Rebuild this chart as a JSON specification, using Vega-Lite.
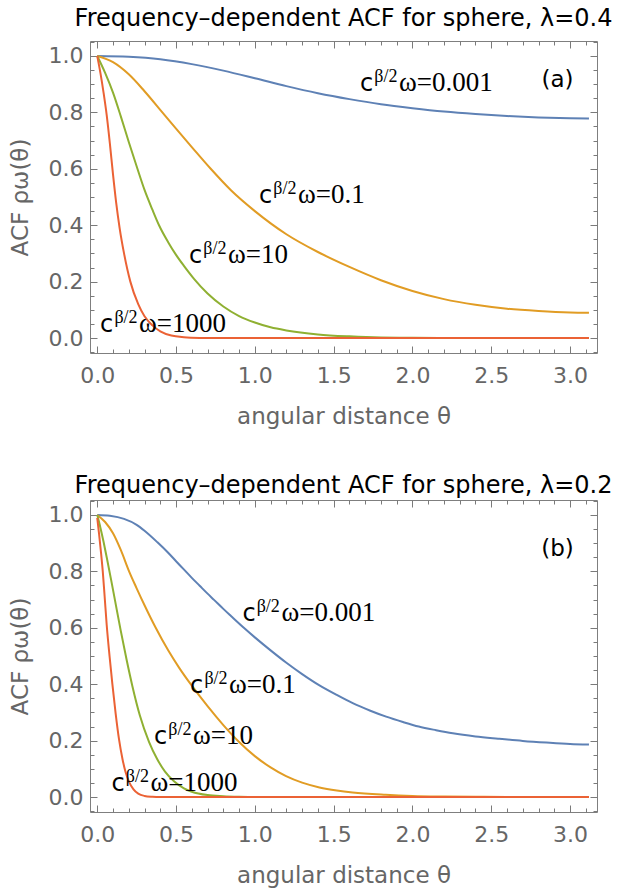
{
  "$schema": "https://vega.github.io/schema/vega-lite/v6.json",
  "background": "white",
  "padding": {"left": 8, "top": 6, "right": 0, "bottom": 0},
  "spacing": 44,
  "config": {
    "font": "DejaVu Sans",
    "view": {"stroke": "#7f7f7f", "strokeWidth": 1},
    "title": {"font": "DejaVu Sans", "fontSize": 24, "fontWeight": "normal", "color": "black", "anchor": "middle", "frame": "group", "baseline": "alphabetic"},
    "axis": {
      "grid": false, "domain": false,
      "labelFont": "DejaVu Sans", "labelFontSize": 22, "labelColor": "#666666",
      "titleFont": "DejaVu Sans", "titleFontSize": 23, "titleColor": "#666666", "titleFontWeight": "normal",
      "tickColor": "#7a7a7a", "tickWidth": 1,
      "labelFlush": false, "labelOverlap": false
    }
  },
  "datasets": {
    "curves": [
      {"p":"a","w":"0.001","x":0,"y":1},{"p":"a","w":"0.001","x":0.2,"y":0.997},{"p":"a","w":"0.001","x":0.4,"y":0.988},{"p":"a","w":"0.001","x":0.6,"y":0.971},{"p":"a","w":"0.001","x":0.8,"y":0.948},{"p":"a","w":"0.001","x":1.0,"y":0.921},{"p":"a","w":"0.001","x":1.2,"y":0.893},{"p":"a","w":"0.001","x":1.4,"y":0.868},{"p":"a","w":"0.001","x":1.6,"y":0.847},{"p":"a","w":"0.001","x":1.8,"y":0.829},{"p":"a","w":"0.001","x":2.0,"y":0.815},{"p":"a","w":"0.001","x":2.2,"y":0.803},{"p":"a","w":"0.001","x":2.4,"y":0.794},{"p":"a","w":"0.001","x":2.6,"y":0.787},{"p":"a","w":"0.001","x":2.8,"y":0.782},{"p":"a","w":"0.001","x":3.0,"y":0.779},{"p":"a","w":"0.001","x":3.12,"y":0.778},

      {"p":"a","w":"0.1","x":0,"y":1},{"p":"a","w":"0.1","x":0.1,"y":0.978},{"p":"a","w":"0.1","x":0.2,"y":0.935},{"p":"a","w":"0.1","x":0.3,"y":0.875},{"p":"a","w":"0.1","x":0.413,"y":0.8},{"p":"a","w":"0.1","x":0.5,"y":0.742},{"p":"a","w":"0.1","x":0.6,"y":0.677},{"p":"a","w":"0.1","x":0.72,"y":0.6},{"p":"a","w":"0.1","x":0.85,"y":0.523},{"p":"a","w":"0.1","x":1.0,"y":0.45},{"p":"a","w":"0.1","x":1.2,"y":0.368},{"p":"a","w":"0.1","x":1.4,"y":0.305},{"p":"a","w":"0.1","x":1.6,"y":0.252},{"p":"a","w":"0.1","x":1.8,"y":0.205},{"p":"a","w":"0.1","x":2.0,"y":0.167},{"p":"a","w":"0.1","x":2.2,"y":0.138},{"p":"a","w":"0.1","x":2.4,"y":0.118},{"p":"a","w":"0.1","x":2.6,"y":0.104},{"p":"a","w":"0.1","x":2.8,"y":0.096},{"p":"a","w":"0.1","x":3.0,"y":0.091},{"p":"a","w":"0.1","x":3.12,"y":0.09},

      {"p":"a","w":"10","x":0,"y":1},{"p":"a","w":"10","x":0.05,"y":0.94},{"p":"a","w":"10","x":0.1,"y":0.87},{"p":"a","w":"10","x":0.15,"y":0.785},{"p":"a","w":"10","x":0.2,"y":0.695},{"p":"a","w":"10","x":0.255,"y":0.6},{"p":"a","w":"10","x":0.3,"y":0.525},{"p":"a","w":"10","x":0.35,"y":0.455},{"p":"a","w":"10","x":0.392,"y":0.4},{"p":"a","w":"10","x":0.45,"y":0.34},{"p":"a","w":"10","x":0.5,"y":0.295},{"p":"a","w":"10","x":0.55,"y":0.256},{"p":"a","w":"10","x":0.614,"y":0.21},{"p":"a","w":"10","x":0.7,"y":0.158},{"p":"a","w":"10","x":0.8,"y":0.112},{"p":"a","w":"10","x":0.9,"y":0.078},{"p":"a","w":"10","x":1.0,"y":0.055},{"p":"a","w":"10","x":1.1,"y":0.038},{"p":"a","w":"10","x":1.2,"y":0.027},{"p":"a","w":"10","x":1.4,"y":0.013},{"p":"a","w":"10","x":1.6,"y":0.006},{"p":"a","w":"10","x":1.8,"y":0.002},{"p":"a","w":"10","x":2.0,"y":0.001},{"p":"a","w":"10","x":2.2,"y":0},{"p":"a","w":"10","x":3.12,"y":0},

      {"p":"a","w":"1000","x":0,"y":1},{"p":"a","w":"1000","x":0.02,"y":0.94},{"p":"a","w":"1000","x":0.04,"y":0.87},{"p":"a","w":"1000","x":0.06,"y":0.79},{"p":"a","w":"1000","x":0.08,"y":0.69},{"p":"a","w":"1000","x":0.1,"y":0.58},{"p":"a","w":"1000","x":0.12,"y":0.48},{"p":"a","w":"1000","x":0.142,"y":0.39},{"p":"a","w":"1000","x":0.17,"y":0.3},{"p":"a","w":"1000","x":0.21,"y":0.2},{"p":"a","w":"1000","x":0.26,"y":0.12},{"p":"a","w":"1000","x":0.3,"y":0.077},{"p":"a","w":"1000","x":0.35,"y":0.045},{"p":"a","w":"1000","x":0.4,"y":0.024},{"p":"a","w":"1000","x":0.47,"y":0.009},{"p":"a","w":"1000","x":0.55,"y":0.003},{"p":"a","w":"1000","x":0.65,"y":0.0005},{"p":"a","w":"1000","x":0.75,"y":0},{"p":"a","w":"1000","x":3.12,"y":0},

      {"p":"b","w":"0.001","x":0,"y":1},{"p":"b","w":"0.001","x":0.08,"y":0.997},{"p":"b","w":"0.001","x":0.17,"y":0.986},{"p":"b","w":"0.001","x":0.25,"y":0.965},{"p":"b","w":"0.001","x":0.3,"y":0.944},{"p":"b","w":"0.001","x":0.382,"y":0.903},{"p":"b","w":"0.001","x":0.45,"y":0.866},{"p":"b","w":"0.001","x":0.5,"y":0.836},{"p":"b","w":"0.001","x":0.551,"y":0.806},{"p":"b","w":"0.001","x":0.6,"y":0.777},{"p":"b","w":"0.001","x":0.65,"y":0.749},{"p":"b","w":"0.001","x":0.7,"y":0.721},{"p":"b","w":"0.001","x":0.741,"y":0.699},{"p":"b","w":"0.001","x":0.8,"y":0.667},{"p":"b","w":"0.001","x":0.85,"y":0.641},{"p":"b","w":"0.001","x":0.93,"y":0.6},{"p":"b","w":"0.001","x":1.0,"y":0.566},{"p":"b","w":"0.001","x":1.1,"y":0.52},{"p":"b","w":"0.001","x":1.198,"y":0.477},{"p":"b","w":"0.001","x":1.3,"y":0.436},{"p":"b","w":"0.001","x":1.41,"y":0.396},{"p":"b","w":"0.001","x":1.52,"y":0.362},{"p":"b","w":"0.001","x":1.621,"y":0.333},{"p":"b","w":"0.001","x":1.733,"y":0.306},{"p":"b","w":"0.001","x":1.833,"y":0.285},{"p":"b","w":"0.001","x":1.94,"y":0.266},{"p":"b","w":"0.001","x":2.04,"y":0.25},{"p":"b","w":"0.001","x":2.15,"y":0.237},{"p":"b","w":"0.001","x":2.256,"y":0.226},{"p":"b","w":"0.001","x":2.4,"y":0.215},{"p":"b","w":"0.001","x":2.543,"y":0.207},{"p":"b","w":"0.001","x":2.7,"y":0.199},{"p":"b","w":"0.001","x":2.85,"y":0.193},{"p":"b","w":"0.001","x":3.0,"y":0.188},{"p":"b","w":"0.001","x":3.12,"y":0.186},

      {"p":"b","w":"0.1","x":0,"y":1},{"p":"b","w":"0.1","x":0.05,"y":0.975},{"p":"b","w":"0.1","x":0.1,"y":0.935},{"p":"b","w":"0.1","x":0.15,"y":0.875},{"p":"b","w":"0.1","x":0.202,"y":0.8},{"p":"b","w":"0.1","x":0.25,"y":0.74},{"p":"b","w":"0.1","x":0.3,"y":0.68},{"p":"b","w":"0.1","x":0.371,"y":0.6},{"p":"b","w":"0.1","x":0.45,"y":0.52},{"p":"b","w":"0.1","x":0.52,"y":0.458},{"p":"b","w":"0.1","x":0.593,"y":0.4},{"p":"b","w":"0.1","x":0.7,"y":0.322},{"p":"b","w":"0.1","x":0.8,"y":0.255},{"p":"b","w":"0.1","x":0.9,"y":0.195},{"p":"b","w":"0.1","x":1.0,"y":0.145},{"p":"b","w":"0.1","x":1.1,"y":0.105},{"p":"b","w":"0.1","x":1.198,"y":0.074},{"p":"b","w":"0.1","x":1.3,"y":0.051},{"p":"b","w":"0.1","x":1.41,"y":0.034},{"p":"b","w":"0.1","x":1.52,"y":0.023},{"p":"b","w":"0.1","x":1.62,"y":0.016},{"p":"b","w":"0.1","x":1.83,"y":0.008},{"p":"b","w":"0.1","x":2.0,"y":0.004},{"p":"b","w":"0.1","x":2.2,"y":0.002},{"p":"b","w":"0.1","x":2.4,"y":0.001},{"p":"b","w":"0.1","x":2.6,"y":0},{"p":"b","w":"0.1","x":3.12,"y":0},

      {"p":"b","w":"10","x":0,"y":1},{"p":"b","w":"10","x":0.02,"y":0.955},{"p":"b","w":"10","x":0.04,"y":0.905},{"p":"b","w":"10","x":0.06,"y":0.85},{"p":"b","w":"10","x":0.088,"y":0.77},{"p":"b","w":"10","x":0.115,"y":0.69},{"p":"b","w":"10","x":0.149,"y":0.59},{"p":"b","w":"10","x":0.185,"y":0.49},{"p":"b","w":"10","x":0.223,"y":0.393},{"p":"b","w":"10","x":0.27,"y":0.29},{"p":"b","w":"10","x":0.329,"y":0.195},{"p":"b","w":"10","x":0.38,"y":0.135},{"p":"b","w":"10","x":0.43,"y":0.09},{"p":"b","w":"10","x":0.487,"y":0.056},{"p":"b","w":"10","x":0.55,"y":0.031},{"p":"b","w":"10","x":0.6,"y":0.019},{"p":"b","w":"10","x":0.7,"y":0.007},{"p":"b","w":"10","x":0.8,"y":0.003},{"p":"b","w":"10","x":0.9,"y":0.001},{"p":"b","w":"10","x":1.0,"y":0},{"p":"b","w":"10","x":3.12,"y":0},

      {"p":"b","w":"1000","x":0,"y":0.99},{"p":"b","w":"1000","x":0.012,"y":0.93},{"p":"b","w":"1000","x":0.025,"y":0.86},{"p":"b","w":"1000","x":0.035,"y":0.8},{"p":"b","w":"1000","x":0.047,"y":0.71},{"p":"b","w":"1000","x":0.06,"y":0.61},{"p":"b","w":"1000","x":0.078,"y":0.5},{"p":"b","w":"1000","x":0.096,"y":0.4},{"p":"b","w":"1000","x":0.117,"y":0.295},{"p":"b","w":"1000","x":0.138,"y":0.205},{"p":"b","w":"1000","x":0.16,"y":0.135},{"p":"b","w":"1000","x":0.18,"y":0.088},{"p":"b","w":"1000","x":0.202,"y":0.054},{"p":"b","w":"1000","x":0.23,"y":0.027},{"p":"b","w":"1000","x":0.26,"y":0.012},{"p":"b","w":"1000","x":0.3,"y":0.004},{"p":"b","w":"1000","x":0.35,"y":0.001},{"p":"b","w":"1000","x":0.4,"y":0},{"p":"b","w":"1000","x":3.12,"y":0}
    ],
    "labels": [
      {"p":"a","x":1.667,"y":0.876,"rest":"ω=0.001"},
      {"p":"a","x":1.026,"y":0.478,"rest":"ω=0.1"},
      {"p":"a","x":0.582,"y":0.267,"rest":"ω=10"},
      {"p":"a","x":0.018,"y":0.022,"rest":"ω=1000"},
      {"p":"b","x":0.921,"y":0.625,"rest":"ω=0.001"},
      {"p":"b","x":0.589,"y":0.369,"rest":"ω=0.1"},
      {"p":"b","x":0.36,"y":0.189,"rest":"ω=10"},
      {"p":"b","x":0.09,"y":0.021,"rest":"ω=1000"}
    ],
    "letters": [
      {"p":"a","x":2.92,"y":0.89,"t":"(a)"},
      {"p":"b","x":2.92,"y":0.853,"t":"(b)"}
    ]
  },
  "vconcat": [
    {
      "width": 507, "height": 312,
      "title": {"text": "Frequency–dependent ACF for sphere, λ=0.4", "offset": 10},
      "resolve": {"axis": {"x": "independent", "y": "independent"}},
      "layer": [
        {
          "data": {"name": "curves"},
          "transform": [{"filter": "datum.p === 'a'"}],
          "mark": {"type": "line", "strokeWidth": 2, "interpolate": "monotone", "clip": true},
          "encoding": {
            "x": {"field": "x", "type": "quantitative", "scale": {"domain": [-0.046, 3.171], "nice": false, "zero": false},
              "axis": {"orient": "bottom", "values": [0,0.5,1,1.5,2,2.5,3], "format": ".1f", "tickSize": 7, "offset": -7, "labelPadding": 12, "title": "angular distance θ", "titlePadding": 19}},
            "y": {"field": "y", "type": "quantitative", "scale": {"domain": [-0.053, 1.053], "nice": false, "zero": false},
              "axis": {"orient": "left", "values": [0,0.2,0.4,0.6,0.8,1], "format": ".1f", "tickSize": 7, "offset": -7, "labelPadding": 7, "title": "ACF ρω(θ)", "titlePadding": 16}},
            "color": {"field": "w", "type": "nominal", "scale": {"domain": ["0.001","0.1","10","1000"], "range": ["#5E81B5","#E19C24","#8FB032","#EB6235"]}, "legend": null}
          }
        },
        {
          "data": {"name": "letters"},
          "transform": [{"filter": "datum.p === 'a'"}],
          "mark": {"type": "text", "font": "DejaVu Sans", "fontSize": 23, "align": "center", "baseline": "alphabetic", "color": "black"},
          "encoding": {
            "x": {"field": "x", "type": "quantitative", "scale": {"domain": [-0.046, 3.171], "nice": false, "zero": false},
              "axis": {"orient": "bottom", "values": [0.1,0.2,0.3,0.4,0.6,0.7,0.8,0.9,1.1,1.2,1.3,1.4,1.6,1.7,1.8,1.9,2.1,2.2,2.3,2.4,2.6,2.7,2.8,2.9,3.1], "labels": false, "title": null, "tickSize": 4, "offset": -4}},
            "y": {"field": "y", "type": "quantitative", "scale": {"domain": [-0.053, 1.053], "nice": false, "zero": false},
              "axis": {"orient": "left", "values": [-0.05,0.05,0.1,0.15,0.25,0.3,0.35,0.45,0.5,0.55,0.65,0.7,0.75,0.85,0.9,0.95,1.05], "labels": false, "title": null, "tickSize": 4, "offset": -4}},
            "text": {"field": "t"}
          }
        },
        {
          "data": {"name": "labels"},
          "transform": [{"filter": "datum.p === 'a'"}],
          "mark": {"type": "text", "text": "c", "font": "DejaVu Sans", "fontSize": 24, "align": "left", "baseline": "alphabetic", "color": "black"},
          "encoding": {
            "x": {"field": "x", "type": "quantitative", "scale": {"domain": [-0.046, 3.171], "nice": false, "zero": false},
              "axis": {"orient": "top", "values": [0,0.5,1,1.5,2,2.5,3], "labels": false, "title": null, "tickSize": 7, "offset": -7}},
            "y": {"field": "y", "type": "quantitative", "scale": {"domain": [-0.053, 1.053], "nice": false, "zero": false},
              "axis": {"orient": "right", "values": [0,0.2,0.4,0.6,0.8,1], "labels": false, "title": null, "tickSize": 7, "offset": -7}}
          }
        },
        {
          "data": {"name": "labels"},
          "transform": [{"filter": "datum.p === 'a'"}],
          "mark": {"type": "text", "text": "β/2", "font": "Liberation Serif", "fontSize": 18, "align": "left", "baseline": "alphabetic", "dx": 14.3, "dy": -9, "color": "black"},
          "encoding": {
            "x": {"field": "x", "type": "quantitative", "scale": {"domain": [-0.046, 3.171], "nice": false, "zero": false},
              "axis": {"orient": "top", "values": [0.1,0.2,0.3,0.4,0.6,0.7,0.8,0.9,1.1,1.2,1.3,1.4,1.6,1.7,1.8,1.9,2.1,2.2,2.3,2.4,2.6,2.7,2.8,2.9,3.1], "labels": false, "title": null, "tickSize": 4, "offset": -4}},
            "y": {"field": "y", "type": "quantitative", "scale": {"domain": [-0.053, 1.053], "nice": false, "zero": false},
              "axis": {"orient": "right", "values": [-0.05,0.05,0.1,0.15,0.25,0.3,0.35,0.45,0.5,0.55,0.65,0.7,0.75,0.85,0.9,0.95,1.05], "labels": false, "title": null, "tickSize": 4, "offset": -4}}
          }
        },
        {
          "data": {"name": "labels"},
          "transform": [{"filter": "datum.p === 'a'"}],
          "mark": {"type": "text", "font": "Liberation Serif", "fontSize": 27, "align": "left", "baseline": "alphabetic", "dx": 39, "color": "black"},
          "encoding": {
            "x": {"field": "x", "type": "quantitative", "scale": {"domain": [-0.046, 3.171], "nice": false, "zero": false}, "axis": null},
            "y": {"field": "y", "type": "quantitative", "scale": {"domain": [-0.053, 1.053], "nice": false, "zero": false}, "axis": null},
            "text": {"field": "rest"}
          }
        }
      ]
    },
    {
      "width": 507, "height": 312,
      "title": {"text": "Frequency–dependent ACF for sphere, λ=0.2", "offset": 2},
      "resolve": {"axis": {"x": "independent", "y": "independent"}},
      "layer": [
        {
          "data": {"name": "curves"},
          "transform": [{"filter": "datum.p === 'b'"}],
          "mark": {"type": "line", "strokeWidth": 2, "interpolate": "monotone", "clip": true},
          "encoding": {
            "x": {"field": "x", "type": "quantitative", "scale": {"domain": [-0.046, 3.171], "nice": false, "zero": false},
              "axis": {"orient": "bottom", "values": [0,0.5,1,1.5,2,2.5,3], "format": ".1f", "tickSize": 7, "offset": -7, "labelPadding": 12, "title": "angular distance θ", "titlePadding": 19}},
            "y": {"field": "y", "type": "quantitative", "scale": {"domain": [-0.053, 1.053], "nice": false, "zero": false},
              "axis": {"orient": "left", "values": [0,0.2,0.4,0.6,0.8,1], "format": ".1f", "tickSize": 7, "offset": -7, "labelPadding": 7, "title": "ACF ρω(θ)", "titlePadding": 16}},
            "color": {"field": "w", "type": "nominal", "scale": {"domain": ["0.001","0.1","10","1000"], "range": ["#5E81B5","#E19C24","#8FB032","#EB6235"]}, "legend": null}
          }
        },
        {
          "data": {"name": "letters"},
          "transform": [{"filter": "datum.p === 'b'"}],
          "mark": {"type": "text", "font": "DejaVu Sans", "fontSize": 23, "align": "center", "baseline": "alphabetic", "color": "black"},
          "encoding": {
            "x": {"field": "x", "type": "quantitative", "scale": {"domain": [-0.046, 3.171], "nice": false, "zero": false},
              "axis": {"orient": "bottom", "values": [0.1,0.2,0.3,0.4,0.6,0.7,0.8,0.9,1.1,1.2,1.3,1.4,1.6,1.7,1.8,1.9,2.1,2.2,2.3,2.4,2.6,2.7,2.8,2.9,3.1], "labels": false, "title": null, "tickSize": 4, "offset": -4}},
            "y": {"field": "y", "type": "quantitative", "scale": {"domain": [-0.053, 1.053], "nice": false, "zero": false},
              "axis": {"orient": "left", "values": [-0.05,0.05,0.1,0.15,0.25,0.3,0.35,0.45,0.5,0.55,0.65,0.7,0.75,0.85,0.9,0.95,1.05], "labels": false, "title": null, "tickSize": 4, "offset": -4}},
            "text": {"field": "t"}
          }
        },
        {
          "data": {"name": "labels"},
          "transform": [{"filter": "datum.p === 'b'"}],
          "mark": {"type": "text", "text": "c", "font": "DejaVu Sans", "fontSize": 24, "align": "left", "baseline": "alphabetic", "color": "black"},
          "encoding": {
            "x": {"field": "x", "type": "quantitative", "scale": {"domain": [-0.046, 3.171], "nice": false, "zero": false},
              "axis": {"orient": "top", "values": [0,0.5,1,1.5,2,2.5,3], "labels": false, "title": null, "tickSize": 7, "offset": -7}},
            "y": {"field": "y", "type": "quantitative", "scale": {"domain": [-0.053, 1.053], "nice": false, "zero": false},
              "axis": {"orient": "right", "values": [0,0.2,0.4,0.6,0.8,1], "labels": false, "title": null, "tickSize": 7, "offset": -7}}
          }
        },
        {
          "data": {"name": "labels"},
          "transform": [{"filter": "datum.p === 'b'"}],
          "mark": {"type": "text", "text": "β/2", "font": "Liberation Serif", "fontSize": 18, "align": "left", "baseline": "alphabetic", "dx": 14.3, "dy": -9, "color": "black"},
          "encoding": {
            "x": {"field": "x", "type": "quantitative", "scale": {"domain": [-0.046, 3.171], "nice": false, "zero": false},
              "axis": {"orient": "top", "values": [0.1,0.2,0.3,0.4,0.6,0.7,0.8,0.9,1.1,1.2,1.3,1.4,1.6,1.7,1.8,1.9,2.1,2.2,2.3,2.4,2.6,2.7,2.8,2.9,3.1], "labels": false, "title": null, "tickSize": 4, "offset": -4}},
            "y": {"field": "y", "type": "quantitative", "scale": {"domain": [-0.053, 1.053], "nice": false, "zero": false},
              "axis": {"orient": "right", "values": [-0.05,0.05,0.1,0.15,0.25,0.3,0.35,0.45,0.5,0.55,0.65,0.7,0.75,0.85,0.9,0.95,1.05], "labels": false, "title": null, "tickSize": 4, "offset": -4}}
          }
        },
        {
          "data": {"name": "labels"},
          "transform": [{"filter": "datum.p === 'b'"}],
          "mark": {"type": "text", "font": "Liberation Serif", "fontSize": 27, "align": "left", "baseline": "alphabetic", "dx": 39, "color": "black"},
          "encoding": {
            "x": {"field": "x", "type": "quantitative", "scale": {"domain": [-0.046, 3.171], "nice": false, "zero": false}, "axis": null},
            "y": {"field": "y", "type": "quantitative", "scale": {"domain": [-0.053, 1.053], "nice": false, "zero": false}, "axis": null},
            "text": {"field": "rest"}
          }
        }
      ]
    }
  ]
}
